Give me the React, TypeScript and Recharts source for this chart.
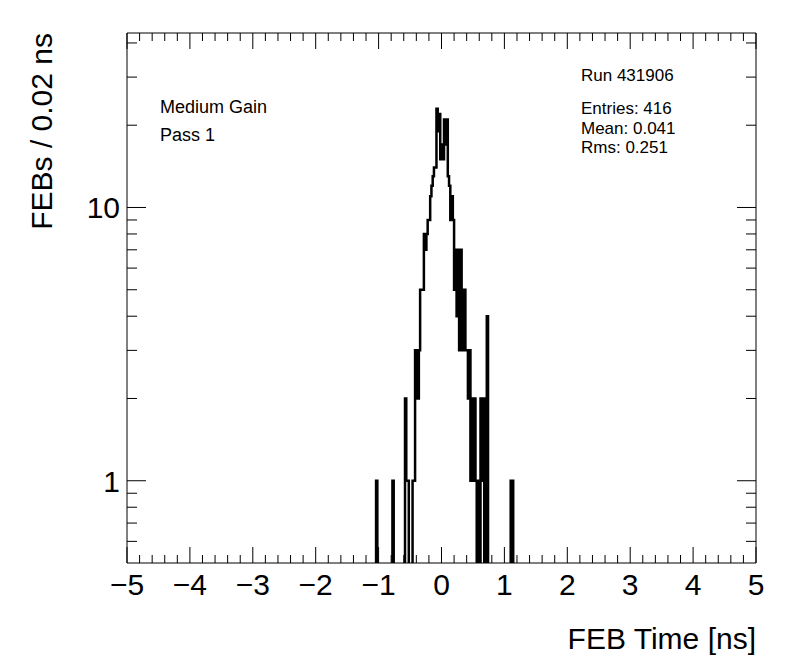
import React from 'react';
import { ComposedChart, Line, XAxis, YAxis } from 'recharts';

// Histogram: FEB time, bins of 0.02 ns starting at BIN_START
const BIN_START = -1.1;
const BIN_WIDTH = 0.02;
const counts: number[] = [
  0, 0, 0, 1, 0, 0, 0, 0, 0, 0, // -1.10 .. -0.92
  0, 0, 0, 0, 0, 0, 1, 0, 0, 0, // -0.90 .. -0.72
  0, 0, 0, 0, 0, 0, 2, 1, 1, 0, // -0.70 .. -0.52
  0, 0, 1, 1, 3, 3, 2, 3, 5, 5, // -0.50 .. -0.32
  5, 8, 7, 8, 9, 9, 11, 12, 13, 14, // -0.30 .. -0.12
  14, 23, 19, 22, 15, 17, 15, 21, 17, 21, // -0.10 .. 0.08
  13, 12, 9, 11, 9, 5, 7, 4, 7, 3, // 0.10 .. 0.28
  7, 5, 3, 5, 3, 3, 2, 3, 1, 2, // 0.30 .. 0.48
  1, 2, 1, 0, 1, 0, 2, 1, 2, 0, // 0.50 .. 0.68
  0, 4, 0, 0, 0, 0, 0, 0, 0, 0, // 0.70 .. 0.88
  0, 0, 0, 0, 0, 0, 0, 0, 0, 0, // 0.90 .. 1.08
  1, 1, 0, 0, 0, // 1.10 .. 1.18
];

const xMajorTicks = [-5, -4, -3, -2, -1, 0, 1, 2, 3, 4, 5];
const xMinorPerMajor = 5;
const yMajorTicks = [1, 10];
const yMinorTicks = [0.6, 0.7, 0.8, 0.9, 2, 3, 4, 5, 6, 7, 8, 9, 20, 30, 40];
const xDomain: [number, number] = [-5, 5];
const yDomain: [number, number] = [0.5, 43.5];

const xTitle = 'FEB Time [ns]';
const yTitle = 'FEBs / 0.02 ns';
const leftNotes = ['Medium Gain', 'Pass 1'];
const runNote = 'Run 431906';
const statNotes = ['Entries: 416', 'Mean: 0.041', 'Rms: 0.251'];

const ZERO_FLOOR = 0.1; // empty bins drop below the frame on a log axis

const data = counts.map((c, i) => ({
  t: Math.round((BIN_START + i * BIN_WIDTH) * 100) / 100,
  v: c > 0 ? c : ZERO_FLOOR,
}));
data.push({
  t: Math.round((BIN_START + counts.length * BIN_WIDTH) * 100) / 100,
  v: data[data.length - 1].v,
});

const xTicks: number[] = [];
for (let i = 0; i < xMajorTicks.length - 1; i++) {
  const a = xMajorTicks[i];
  const b = xMajorTicks[i + 1];
  for (let k = 0; k < xMinorPerMajor; k++) {
    xTicks.push(Math.round((a + ((b - a) * k) / xMinorPerMajor) * 1000) / 1000);
  }
}
xTicks.push(xMajorTicks[xMajorTicks.length - 1]);
const yTicks = [...yMinorTicks, ...yMajorTicks].sort((a, b) => a - b);

const FONT = '"Liberation Sans", Arial, Helvetica, sans-serif';
const BIG = 30;

const isXMajor = (v: number) => xMajorTicks.includes(v);
const isYMajor = (v: number) => yMajorTicks.includes(v);
const fmt = (v: number) => (v < 0 ? '\u2212' + Math.abs(v) : String(v));

const BottomTick = (p: any) => {
  const { x, y, payload } = p;
  const major = isXMajor(payload.value);
  return (
    <g>
      <line x1={x} x2={x} y1={y} y2={y - (major ? 16 : 8)} stroke="#000" strokeWidth={1} />
      {major && (
        <text x={x} y={y + 32} textAnchor="middle" fontSize={BIG} fontFamily={FONT} fill="#000">
          {fmt(payload.value)}
        </text>
      )}
    </g>
  );
};

const TopTick = (p: any) => {
  const { x, y, payload } = p;
  const major = isXMajor(payload.value);
  return <line x1={x} x2={x} y1={y} y2={y + (major ? 16 : 8)} stroke="#000" strokeWidth={1} />;
};

const LeftTick = (p: any) => {
  const { x, y, payload } = p;
  const major = isYMajor(payload.value);
  return (
    <g>
      <line x1={x} x2={x + (major ? 19 : 10)} y1={y} y2={y} stroke="#000" strokeWidth={1} />
      {major && (
        <text x={x - 7} y={y + 11} textAnchor="end" fontSize={BIG} fontFamily={FONT} fill="#000">
          {payload.value}
        </text>
      )}
    </g>
  );
};

const RightTick = (p: any) => {
  const { x, y, payload } = p;
  const major = isYMajor(payload.value);
  return <line x1={x} x2={x - (major ? 19 : 10)} y1={y} y2={y} stroke="#000" strokeWidth={1} />;
};

export default function App() {
  return (
    <div style={{ position: 'absolute', left: 0, top: 0, width: 796, height: 672, background: '#fff' }}>
      <ComposedChart
        width={796}
        height={672}
        data={data}
        margin={{ top: 0, right: 0, bottom: 0, left: 0 }}
      >
        <XAxis
          dataKey="t"
          type="number"
          domain={xDomain}
          allowDataOverflow
          ticks={xTicks}
          interval={0}
          height={109}
          tickSize={0}
          tickMargin={0}
          tickLine={false}
          axisLine={{ stroke: '#000', strokeWidth: 1 }}
          tick={BottomTick}
          label={{
            content: (lp: any) => {
              const vb = lp.viewBox;
              return (
                <text x={vb.x + vb.width} y={vb.y + 86} textAnchor="end" fontSize={BIG} fontFamily={FONT} fill="#000">
                  {xTitle}
                </text>
              );
            },
          }}
        />
        <XAxis
          xAxisId="top"
          orientation="top"
          dataKey="t"
          type="number"
          domain={xDomain}
          allowDataOverflow
          ticks={xTicks}
          interval={0}
          height={33}
          tickSize={0}
          tickMargin={0}
          tickLine={false}
          axisLine={{ stroke: '#000', strokeWidth: 1 }}
          tick={TopTick}
        />
        <YAxis
          type="number"
          scale="log"
          domain={yDomain}
          allowDataOverflow
          ticks={yTicks}
          interval={0}
          width={127}
          tickSize={0}
          tickMargin={0}
          tickLine={false}
          axisLine={{ stroke: '#000', strokeWidth: 1 }}
          tick={LeftTick}
          label={{
            content: (lp: any) => {
              const vb = lp.viewBox;
              const cx = 52;
              const cy = vb.y;
              return (
                <text
                  x={cx}
                  y={cy}
                  transform={`rotate(-90, ${cx}, ${cy})`}
                  textAnchor="end"
                  fontSize={BIG}
                  fontFamily={FONT}
                  fill="#000"
                >
                  {yTitle}
                </text>
              );
            },
          }}
        />
        <YAxis
          yAxisId="right"
          orientation="right"
          type="number"
          scale="log"
          domain={yDomain}
          allowDataOverflow
          ticks={yTicks}
          interval={0}
          width={40}
          tickSize={0}
          tickMargin={0}
          tickLine={false}
          axisLine={{ stroke: '#000', strokeWidth: 1 }}
          tick={RightTick}
        />
        <Line
          dataKey="v"
          type="stepAfter"
          stroke="#000"
          strokeWidth={2.5}
          dot={false}
          activeDot={false}
          isAnimationActive={false}
        />
      </ComposedChart>
      <svg
        width={796}
        height={672}
        style={{ position: 'absolute', left: 0, top: 0, pointerEvents: 'none' }}
      >
        {leftNotes.map((s, i) => (
          <text key={s} x={160} y={113 + i * 28} fontSize={18} fontFamily={FONT} fill="#000">
            {s}
          </text>
        ))}
        <text x={581} y={81} fontSize={17} fontFamily={FONT} fill="#000">
          {runNote}
        </text>
        {statNotes.map((s, i) => (
          <text key={s} x={581} y={114 + i * 19.5} fontSize={17} fontFamily={FONT} fill="#000">
            {s}
          </text>
        ))}
      </svg>
    </div>
  );
}
